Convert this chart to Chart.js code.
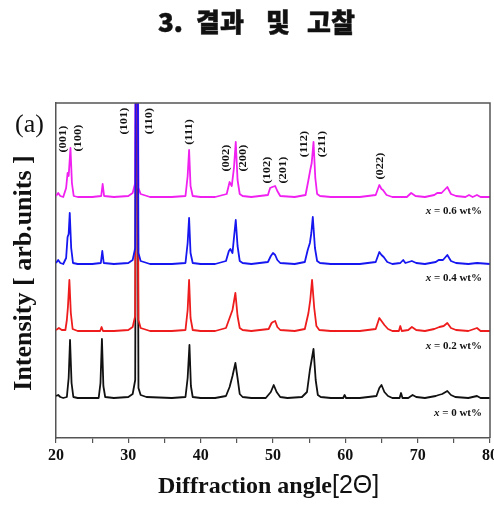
<!DOCTYPE html>
<html>
<head>
<meta charset="utf-8">
<script src="https://cdn.jsdelivr.net/npm/chart.js@4.4.1/dist/chart.umd.min.js"></script>
<style>
  html, body { margin: 0; padding: 0; background: #fff; overflow: hidden; }
  #xrd { display: block; }
</style>
</head>
<body>
<canvas id="xrd" width="494" height="505"></canvas>
<script>
// XRD patterns, [2theta, intensity] (intensity already offset per sample)
const xrd00 = [[20,42],[20.3,43],[20.6,41],[21,40],[21.5,41],[21.75,60],[21.94,98],[22.15,55],[22.4,41],[23,40],[25,40],[25.9,40],[26.15,55],[26.35,99],[26.55,52],[26.8,41],[28,40],[30,41],[30.6,44],[30.95,58],[31.15,600],[31.4,50],[31.7,43],[32.5,41],[36,40],[37.9,41],[38.2,60],[38.45,93],[38.65,52],[38.9,41],[40,40],[42,40],[43.5,42],[44.0,51],[44.4,62],[44.8,75],[45.1,60],[45.4,44],[45.8,41],[47,40],[49,40],[49.7,46],[50.1,53],[50.5,46],[51,41],[52,40],[54,41],[54.7,46],[55.1,68],[55.6,89],[55.9,58],[56.2,43],[56.6,41],[58,40],[59.7,40],[59.9,43],[60.1,40],[62,40],[64.3,42],[64.7,50],[65.0,53],[65.4,46],[65.9,42],[66.5,40],[67.5,40],[67.7,45],[67.9,40],[68.7,40],[69.3,43],[69.8,41],[71,40],[72.5,42],[72.9,43],[73.4,44],[74.1,47],[74.6,43],[75.2,41],[77,40],[78.2,42],[78.7,40],[80,40]];
const xrd02 = [[20,108],[20.4,110],[20.8,108],[21.3,108],[21.5,118],[21.65,131],[21.85,158],[22.05,125],[22.3,109],[23,107],[25,107],[26.1,107],[26.3,111],[26.5,107],[28,107],[30,108],[30.6,111],[30.95,122],[31.15,650],[31.4,118],[31.7,110],[33,107],[36,107],[37.9,108],[38.2,128],[38.4,158],[38.6,120],[38.9,108],[40,107],[42,107],[43.5,110],[44.0,120],[44.4,128],[44.8,145],[45.1,122],[45.4,110],[45.8,108],[47,107],[49.4,109],[49.8,115],[50.0,116],[50.3,117],[50.6,111],[51,108],[53,107],[54.4,109],[54.9,125],[55.15,138],[55.4,158],[55.7,130],[56.0,112],[56.4,108],[58,107],[62,107],[64.2,109],[64.7,120],[65.0,117],[65.4,113],[65.9,109],[66.5,107],[67.4,107],[67.6,112],[67.8,107],[68.7,108],[69.2,111],[69.8,108],[71,107],[72.3,109],[73,111],[73.6,112],[74.1,115],[74.6,110],[75.3,108],[77,107],[78.2,110],[78.7,107],[80,107]];
const xrd04 = [[20,175],[20.3,178],[20.6,175],[21,174],[21.4,180],[21.6,201],[21.75,204],[21.9,225],[22.1,190],[22.35,175],[23,174],[25,174],[26.2,175],[26.4,187],[26.6,175],[28,174],[30,175],[30.6,178],[30.95,190],[31.15,700],[31.4,185],[31.7,177],[33,174],[36,174],[37.9,175],[38.2,195],[38.4,220],[38.6,185],[38.9,175],[40,174],[42,174],[43.5,177],[43.9,187],[44.1,189],[44.4,185],[44.6,200],[44.85,218],[45.1,192],[45.4,177],[45.8,175],[47,174],[49.3,176],[49.7,182],[50.0,185],[50.3,183],[50.6,178],[51,175],[53,174],[54.4,176],[54.8,188],[55.1,195],[55.3,205],[55.5,221],[55.8,190],[56.1,177],[56.5,175],[58,174],[62,174],[64.2,176],[64.7,186],[65.0,183],[65.3,181],[65.8,176],[66.5,174],[67.6,175],[68.0,178],[68.3,175],[69.2,177],[69.8,175],[71,174],[72.5,176],[72.9,178],[73.5,178],[74.1,183],[74.6,177],[75.3,175],[77,174],[78.2,175],[80,174]];
const xrd06 = [[20,242],[20.3,245],[20.6,242],[21,241],[21.4,250],[21.6,265],[21.75,262],[22.0,290],[22.2,255],[22.45,242],[23,241],[25,241],[26.25,242],[26.45,254],[26.65,242],[28,241],[30,242],[30.6,245],[30.95,255],[31.15,750],[31.4,250],[31.7,244],[33,241],[36,241],[37.9,242],[38.2,262],[38.4,288],[38.6,252],[38.9,242],[40,241],[42,241],[43.6,244],[44.0,256],[44.3,252],[44.6,270],[44.85,296],[45.1,258],[45.4,244],[45.8,242],[47,241],[49.3,243],[49.6,250],[49.9,251],[50.3,252],[50.6,247],[51,242],[53,241],[54.5,243],[54.9,258],[55.15,268],[55.35,275],[55.6,296],[55.85,260],[56.1,244],[56.5,242],[58,241],[62,241],[64.2,243],[64.7,253],[65.0,249],[65.2,248],[65.7,243],[66.5,241],[68.5,241],[69.1,245],[69.7,242],[71,241],[72.3,243],[72.7,245],[73.3,245],[74.1,251],[74.6,244],[75.3,242],[76.6,241],[77.1,243],[77.6,241],[78.2,243],[78.7,241],[80,241]];

const sampleNames = ['0.6 wt%', '0.4 wt%', '0.2 wt%', '0 wt%'];
const sampleLevels = [228, 161, 93, 26];   // where the "x = ..." notes sit

const hklLabels = ['(001)', '(100)', '(101)', '(110)', '(111)', '(002)', '(200)', '(102)', '(201)', '(112)', '(211)', '(022)'];
const hklAngles = [20.97, 23.04, 29.4, 32.86, 38.4, 43.5, 45.86, 49.2, 51.4, 54.4, 56.9, 64.8];
const hklLevels = [299, 300, 317, 317, 306, 280, 280, 268, 268, 294, 294, 272];

const xTicks = [20, 30, 40, 50, 60, 70, 80];

const SERIF = '"Liberation Serif", "Times New Roman", serif';
const AXIS_COLOR = '#555';

function toPts(arr) {
    return arr.map(p => ({ x: p[0], y: p[1] }));
}

const decorPlugin = {
    id: 'decor',
    afterDraw(chart) {
        const ctx = chart.ctx;
        const area = chart.chartArea;
        const xs = chart.scales.x, ys = chart.scales.y;
        ctx.save();

        // top and right frame
        ctx.strokeStyle = AXIS_COLOR;
        ctx.lineWidth = 1.5;
        ctx.beginPath();
        ctx.moveTo(area.left, area.top);
        ctx.lineTo(area.right, area.top);
        ctx.lineTo(area.right, area.bottom);
        ctx.stroke();

        // page heading
        ctx.fillStyle = '#111';
        ctx.strokeStyle = '#111';
        ctx.lineWidth = 0.5;
        ctx.textBaseline = 'alphabetic';
        ctx.textAlign = 'left';
        ctx.font = '900 26px "Noto Sans CJK KR", sans-serif';
        [['3.', 158], ['결과', 196], ['및', 266], ['고찰', 307]].forEach(([t, x]) => {
            ctx.fillText(t, x, 32);
            ctx.strokeText(t, x, 32);
        });

        // panel letter
        ctx.font = '26px ' + SERIF;
        ctx.fillText('(a)', 15, 132);

        // x title
        ctx.font = 'bold 24px ' + SERIF;
        const part1 = 'Diffraction angle';
        ctx.fillText(part1, 158, 493);
        const w1 = ctx.measureText(part1).width;
        ctx.font = '25px "Liberation Sans", Arial, sans-serif';
        ctx.fillText('[2\u0398]', 158 + w1, 493);

        // y title
        ctx.save();
        ctx.translate(31, 273);
        ctx.rotate(-Math.PI / 2);
        ctx.textAlign = 'center';
        ctx.font = 'bold 26px ' + SERIF;
        ctx.fillText('Intensity [ arb.units ]', 0, 0);
        ctx.restore();

        // sample notes, right aligned
        sampleNames.forEach((name, i) => {
            const y = ys.getPixelForValue(sampleLevels[i]);
            const rest = ' = ' + name;
            ctx.font = 'bold 11px ' + SERIF;
            const wr = ctx.measureText(rest).width;
            ctx.font = 'italic bold 11px ' + SERIF;
            const wx = ctx.measureText('x').width;
            const xr = area.right - 8;
            ctx.fillText('x', xr - wr - wx, y + 4);
            ctx.font = 'bold 11px ' + SERIF;
            ctx.fillText(rest, xr - wr, y + 4);
        });

        // Miller indices
        ctx.font = 'bold 10px ' + SERIF;
        ctx.textAlign = 'center';
        ctx.textBaseline = 'middle';
        hklLabels.forEach((lab, i) => {
            ctx.save();
            ctx.translate(xs.getPixelForValue(hklAngles[i]), ys.getPixelForValue(hklLevels[i]));
            ctx.rotate(-Math.PI / 2);
            ctx.scale(1.25, 1);
            ctx.fillText(lab, 0, 0);
            ctx.restore();
        });

        ctx.restore();
    }
};

const series = [
    { data: xrd04, color: '#1616f0' },
    { data: xrd06, color: '#f020f0' },
    { data: xrd02, color: '#ee1c1c' },
    { data: xrd00, color: '#111111' }
];

new Chart(document.getElementById('xrd'), {
    type: 'line',
    data: {
        datasets: series.map(s => ({
            data: toPts(s.data),
            borderColor: s.color,
            borderWidth: 1.8,
            borderJoinStyle: 'round',
            pointRadius: 0,
            tension: 0,
            fill: false
        }))
    },
    options: {
        responsive: false,
        animation: false,
        devicePixelRatio: 1,
        layout: { padding: { left: 56, right: 4, top: 103, bottom: 0 } },
        plugins: { legend: { display: false }, tooltip: { enabled: false } },
        scales: {
            x: {
                type: 'linear',
                min: 20,
                max: 80,
                afterFit(scale) {
                    scale.height = 67;
                    scale.paddingLeft = 0;
                    scale.paddingRight = 0;
                },
                grid: { display: true, drawOnChartArea: false, tickLength: 5, color: AXIS_COLOR, lineWidth: 1.2 },
                border: { display: true, color: AXIS_COLOR, width: 1.5 },
                ticks: {
                    stepSize: 5,
                    autoSkip: false,
                    maxRotation: 0,
                    padding: 3,
                    color: '#111',
                    font: { family: SERIF, size: 16, weight: 'bold' },
                    callback: v => (xTicks.includes(v) ? String(v) : '')
                }
            },
            y: {
                type: 'linear',
                min: 0,
                max: 335,
                afterFit(scale) { scale.width = 0; },
                grid: { display: false },
                border: { display: true, color: AXIS_COLOR, width: 1.5 },
                ticks: { display: false }
            }
        }
    },
    plugins: [decorPlugin]
});
</script>
</body>
</html>
